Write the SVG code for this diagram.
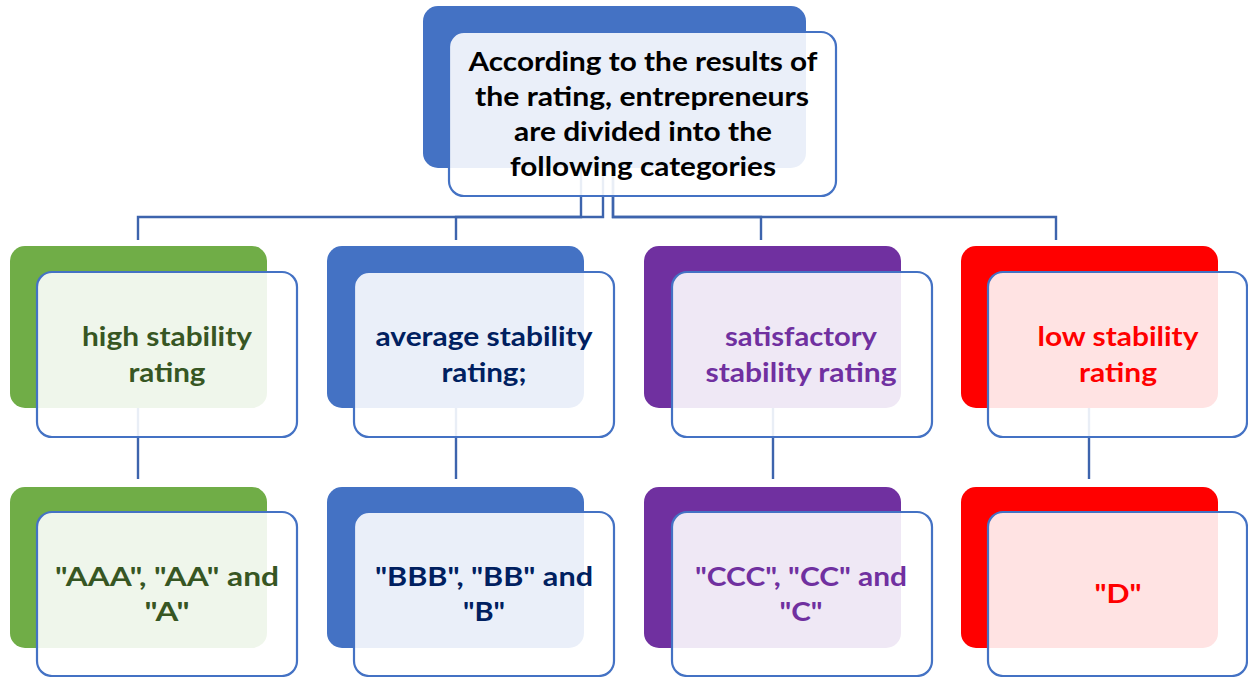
<svg xmlns="http://www.w3.org/2000/svg" width="1248" height="677" viewBox="0 0 1248 677">
<style>
.back{stroke:none}
.front{fill:#ffffff;fill-opacity:0.89;stroke:#4472C4;stroke-width:2.2}
.conn{fill:none;stroke:#3D64AD;stroke-width:2.4}
text{font-family:Lato,"Liberation Sans",sans-serif;font-weight:bold;font-size:26px;text-anchor:middle}
.t0{fill:#000000;font-size:27px}
.t1{fill:#375623}
.t2{fill:#002060}
.t3{fill:#7030A0}
.t4{fill:#FF0000}
</style>
<rect width="1248" height="677" fill="#ffffff"/>
<g id="connectors">
<path class="conn" d="M581,168 V217 H138 V240"/>
<path class="conn" d="M603,168 V217 H456 V240"/>
<path class="conn" d="M613,168 V217 H761 V240"/>
<path class="conn" d="M613,168 V217 H1056 V240"/>
<path class="conn" d="M138,408 V479"/>
<path class="conn" d="M456,408 V479"/>
<path class="conn" d="M773,408 V479"/>
<path class="conn" d="M1089,408 V479"/>
</g>
<g id="node-top">
<rect class="back" x="423" y="6" width="383" height="162" rx="15" fill="#4472C4"/>
<rect class="front" x="449" y="32" width="387" height="164" rx="15"/>
<text class="t0" x="643" y="71" textLength="349" lengthAdjust="spacingAndGlyphs">According to the results of</text>
<text class="t0" x="642" y="106" textLength="334" lengthAdjust="spacingAndGlyphs">the rating, entrepreneurs</text>
<text class="t0" x="643" y="141" textLength="258" lengthAdjust="spacingAndGlyphs">are divided into the</text>
<text class="t0" x="643" y="176" textLength="266" lengthAdjust="spacingAndGlyphs">following categories</text>
</g>
<g id="node-high">
<rect class="back" x="10" y="246" width="257" height="162" rx="15" fill="#70AD47"/>
<rect class="front" x="37" y="272" width="260" height="165" rx="15"/>
<text class="t1" x="167" y="346" textLength="170" lengthAdjust="spacingAndGlyphs">high stability</text>
<text class="t1" x="167" y="382" textLength="77" lengthAdjust="spacingAndGlyphs">rating</text>
</g>
<g id="node-average">
<rect class="back" x="327" y="246" width="257" height="162" rx="15" fill="#4472C4"/>
<rect class="front" x="354" y="272" width="260" height="165" rx="15"/>
<text class="t2" x="484" y="346" textLength="217" lengthAdjust="spacingAndGlyphs">average stability</text>
<text class="t2" x="484" y="382" textLength="85" lengthAdjust="spacingAndGlyphs">rating;</text>
</g>
<g id="node-satisfactory">
<rect class="back" x="644" y="246" width="257" height="162" rx="15" fill="#7030A0"/>
<rect class="front" x="672" y="272" width="260" height="165" rx="15"/>
<text class="t3" x="801" y="346" textLength="152" lengthAdjust="spacingAndGlyphs">satisfactory</text>
<text class="t3" x="801" y="382" textLength="191" lengthAdjust="spacingAndGlyphs">stability rating</text>
</g>
<g id="node-low">
<rect class="back" x="961" y="246" width="257" height="162" rx="15" fill="#FF0000"/>
<rect class="front" x="988" y="272" width="259" height="165" rx="15"/>
<text class="t4" x="1118" y="346" textLength="161" lengthAdjust="spacingAndGlyphs">low stability</text>
<text class="t4" x="1118" y="382" textLength="78" lengthAdjust="spacingAndGlyphs">rating</text>
</g>
<g id="node-aaa">
<rect class="back" x="10" y="487" width="257" height="161" rx="15" fill="#70AD47"/>
<rect class="front" x="37" y="512" width="260" height="164" rx="15"/>
<text class="t1" x="167" y="586" textLength="224" lengthAdjust="spacingAndGlyphs">"AAA", "AA" and</text>
<text class="t1" x="167" y="621" textLength="45" lengthAdjust="spacingAndGlyphs">"A"</text>
</g>
<g id="node-bbb">
<rect class="back" x="327" y="487" width="257" height="161" rx="15" fill="#4472C4"/>
<rect class="front" x="354" y="512" width="260" height="164" rx="15"/>
<text class="t2" x="484" y="586" textLength="218" lengthAdjust="spacingAndGlyphs">"BBB", "BB" and</text>
<text class="t2" x="484" y="621" textLength="42" lengthAdjust="spacingAndGlyphs">"B"</text>
</g>
<g id="node-ccc">
<rect class="back" x="644" y="487" width="257" height="161" rx="15" fill="#7030A0"/>
<rect class="front" x="672" y="512" width="260" height="164" rx="15"/>
<text class="t3" x="801" y="586" textLength="212" lengthAdjust="spacingAndGlyphs">"CCC", "CC" and</text>
<text class="t3" x="801" y="621" textLength="43" lengthAdjust="spacingAndGlyphs">"C"</text>
</g>
<g id="node-d">
<rect class="back" x="961" y="487" width="257" height="161" rx="15" fill="#FF0000"/>
<rect class="front" x="988" y="512" width="259" height="164" rx="15"/>
<text class="t4" x="1118" y="603" textLength="47" lengthAdjust="spacingAndGlyphs">"D"</text>
</g>
</svg>
